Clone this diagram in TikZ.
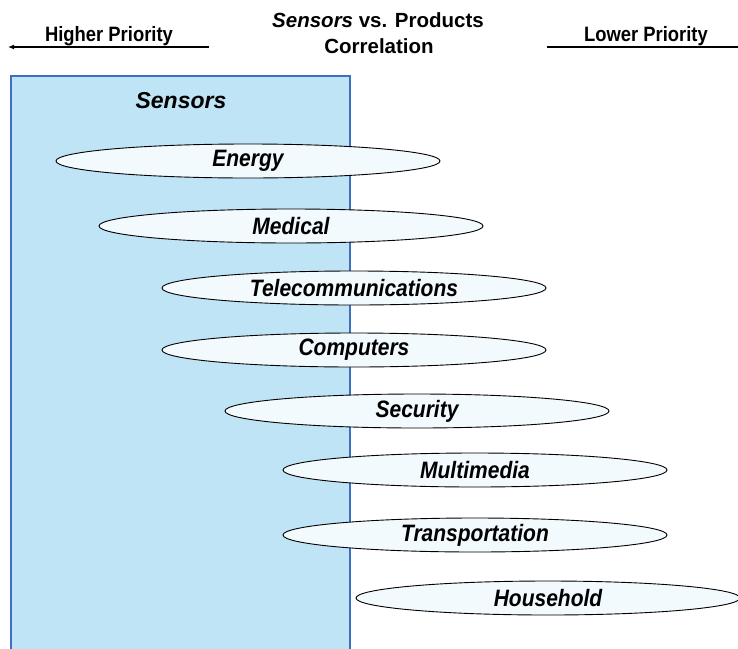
\documentclass[tikz,border=0pt]{standalone}
\usepackage{fontspec}
\usepackage{graphicx}
\setmainfont{Liberation Sans}
\usetikzlibrary{shapes.geometric,arrows.meta}
\definecolor{boxfill}{RGB}{190,228,246}
\definecolor{boxline}{RGB}{63,111,192}
\definecolor{ellfill}{RGB}{243,250,254}
\newcommand{\vst}[1]{\scalebox{1}[1.13]{#1}}
\tikzset{
  prod/.style={ellipse,draw=black,line width=0.9pt,fill=ellfill,minimum width=384pt,minimum height=34pt,inner sep=0pt,
    font=\fontsize{21}{24}\selectfont\bfseries\itshape},
  hdr/.style={font=\fontsize{18.4}{21}\selectfont\bfseries,anchor=base,inner sep=0pt},
  ttl/.style={font=\fontsize{20.5}{24}\selectfont\bfseries,anchor=base,inner sep=0pt},
}
\begin{document}
\begin{tikzpicture}[x=1pt,y=-1pt]
\useasboundingbox (0,0) rectangle (738,648);
\fill[white] (0,0) rectangle (738,648);
\node[draw=boxline,line width=1.8pt,fill=boxfill,minimum width=339pt,minimum height=580pt,anchor=north west,inner sep=0pt] (box) at (10,75) {};
\node[font=\fontsize{23}{26}\selectfont\bfseries\itshape,anchor=base,inner sep=0pt] (sens) at (181,108) {Sensors};
\node[ttl] (title1) at (378,27) {\textit{Sensors} vs. Products};
\node[ttl] (title2) at (379,53) {Correlation};
\node[hdr] (hp) at (109,41) {\vst{Higher Priority}};
\node[hdr] (lp) at (646,41) {\vst{Lower Priority}};
\coordinate (hpa) at (209,47);
\coordinate (hpb) at (8,47);
\coordinate (lpa) at (547,47);
\coordinate (lpb) at (738,47);
\draw[line width=1.3pt,-{Latex[length=6pt,width=5pt]}] (hpa) -- (hpb);
\draw[line width=1.3pt] (lpa) -- (lpb);
\node[prod] (e1) at (248,161) {\vst{Energy}};
\node[prod] (e2) at (291,226) {\vst{Medical}};
\node[prod] (e3) at (354,288) {\vst{Telecommunications}};
\node[prod] (e4) at (354,350) {\vst{Computers}};
\node[prod] (e5) at (417,411) {\vst{Security}};
\node[prod] (e6) at (475,470) {\vst{Multimedia}};
\node[prod] (e7) at (475,535) {\vst{Transportation}};
\node[prod] (e8) at (548,598) {\vst{Household}};
\end{tikzpicture}
\end{document}
